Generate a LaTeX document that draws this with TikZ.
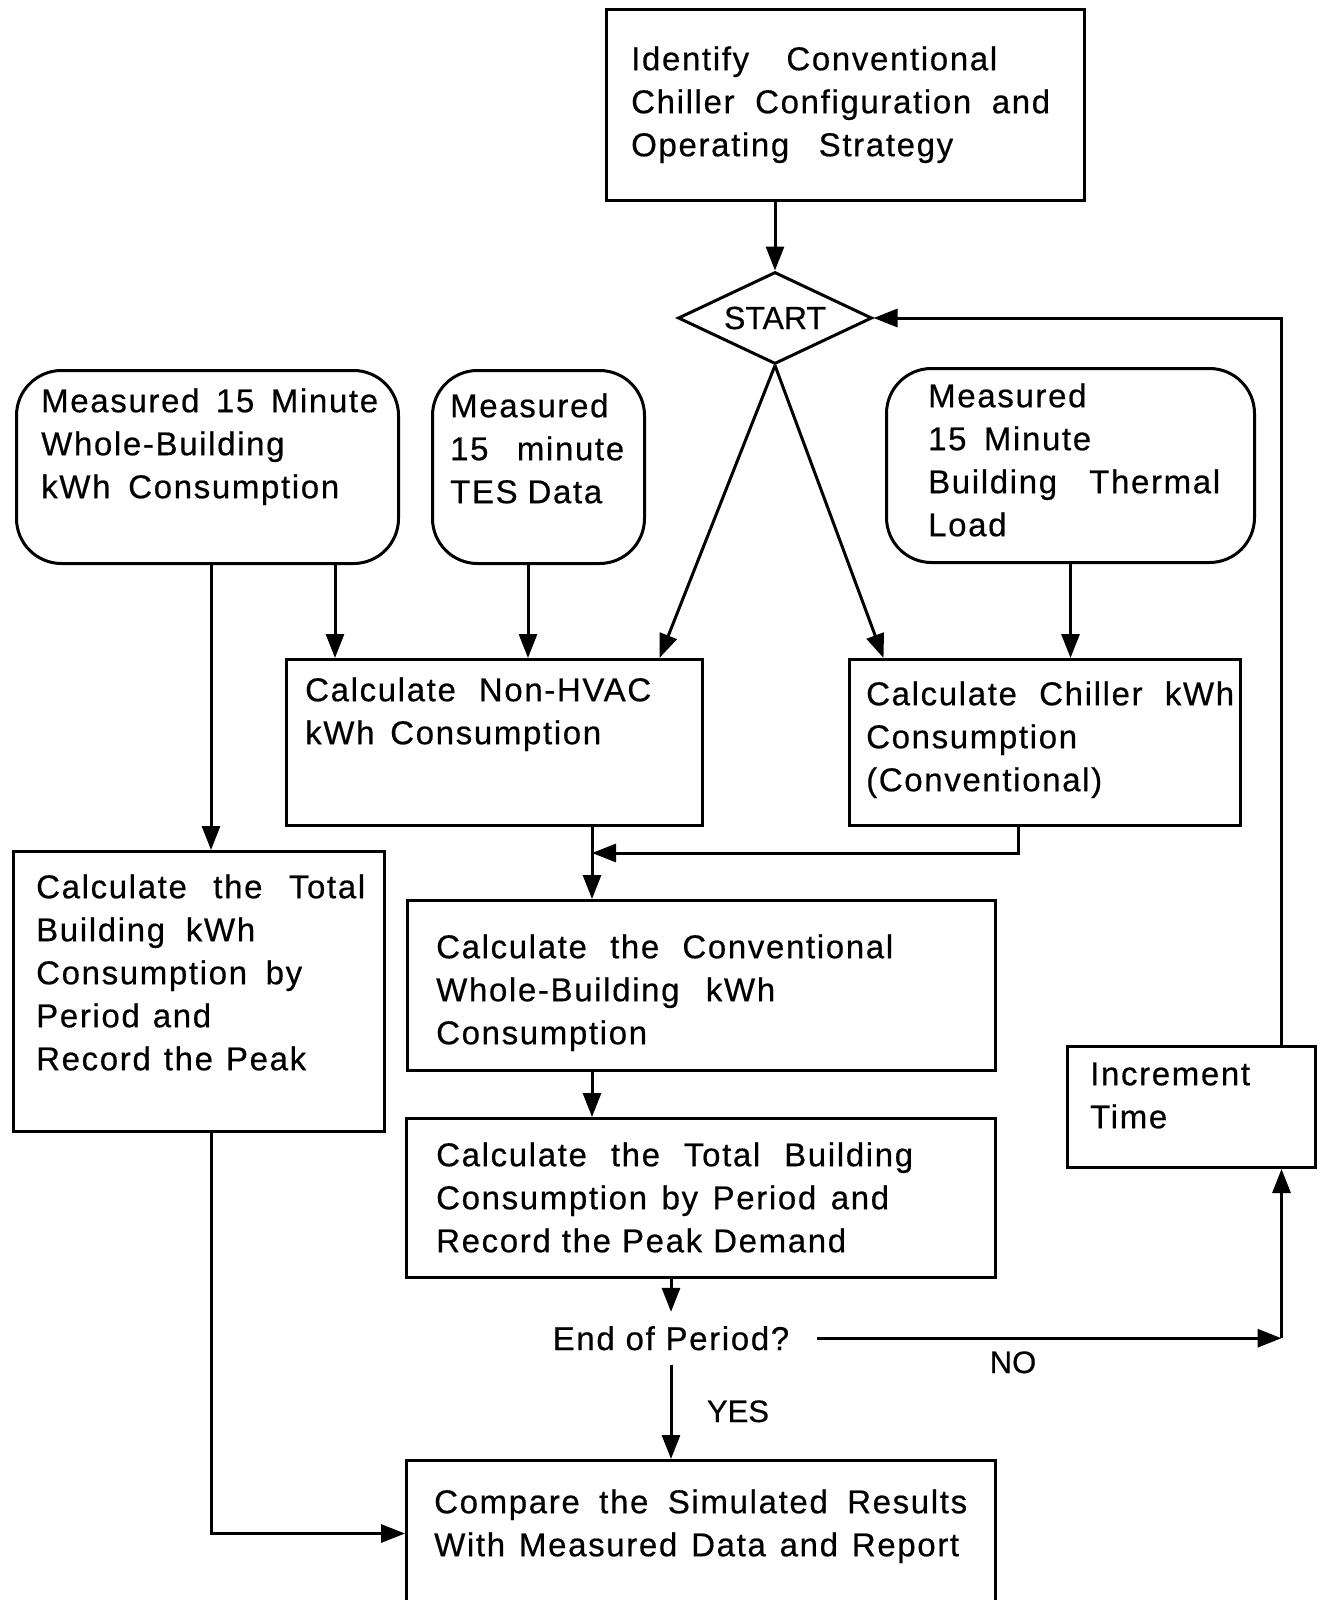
\documentclass[tikz,border=0pt]{standalone}
\usepackage{fontspec}
\setmainfont{Liberation Sans}[LetterSpace=5,FakeBold=0.5]
\newfontfamily\plainfont{Liberation Sans}[FakeBold=0.5]
\usetikzlibrary{arrows.meta,shapes.geometric}
\newcommand{\jl}[2]{\makebox[#1pt][s]{#2}}
\newcommand{\fl}{\rule{0pt}{25pt}}
\begin{document}
\begin{tikzpicture}[x=1pt,y=-1pt,
  box/.style={draw,line width=3pt,inner sep=0pt,anchor=north west},
  rbox/.style={box,rounded corners=45pt},
  txt/.style={anchor=north west,inner sep=0pt,align=left,font=\fontsize{33}{43}\selectfont},
  arr/.style={line width=3pt,-{Triangle[length=24pt,width=18pt]}},
  lbl/.style={anchor=base,inner sep=0pt,font=\plainfont\fontsize{31}{31}\selectfont},
]
\useasboundingbox (0,0) rectangle (1321,1600);
\fill[white] (0,0) rectangle (1321,1600);

% boxes
\node[box,minimum width=478pt,minimum height=191pt] (top) at (605,8) {};
\node[rbox,minimum width=382pt,minimum height=193pt] (box1) at (15,369) {};
\node[rbox,minimum width=212pt,minimum height=193pt] (tes) at (431,369) {};
\node[rbox,minimum width=368pt,minimum height=194pt] (thermal) at (885,367) {};
\node[box,minimum width=416pt,minimum height=166pt] (nonhvac) at (285,658) {};
\node[box,minimum width=391pt,minimum height=166pt] (chiller) at (848,658) {};
\node[box,minimum width=371pt,minimum height=280pt] (left) at (12,850) {};
\node[box,minimum width=588pt,minimum height=170pt] (conv) at (406,899) {};
\node[box,minimum width=589pt,minimum height=159pt] (total) at (405,1117) {};
\node[box,minimum width=248pt,minimum height=121pt] (inc) at (1066,1045) {};
\node[box,minimum width=589pt,minimum height=146pt] (compare) at (405,1459) {};

\node[draw,line width=3pt,shape=diamond,aspect=2.1,minimum width=194pt,minimum height=92pt,inner sep=0pt,
  font=\plainfont\fontsize{32}{32}\selectfont] (start) at (775,318) {START};

% texts
\node[txt] (ttop) at (631,45) {\fl\jl{366}{Identify Conventional}\\\jl{419}{Chiller Configuration and}\\\jl{322}{Operating Strategy}};
\node[txt] (tbox1) at (41,387) {\fl\jl{337}{Measured 15 Minute}\\Whole-Building\\\jl{298}{kWh Consumption}};
\node[txt] (ttes) at (450,392) {\fl Measured\\\jl{174}{15 minute}\\\jl{152}{TES Data}};
\node[txt] (tthermal) at (928,382) {\fl Measured\\\jl{163}{15 Minute}\\\jl{292}{Building Thermal}\\Load};
\node[txt] (tnonhvac) at (305,676) {\fl\jl{346}{Calculate Non-HVAC}\\\jl{296}{kWh Consumption}};
\node[txt] (tchiller) at (866,680) {\fl\jl{368}{Calculate Chiller kWh}\\Consumption\\(Conventional)};
\node[txt] (tleft) at (36,873) {\fl\jl{329}{Calculate the Total}\\\jl{219}{Building kWh}\\\jl{266}{Consumption by}\\\jl{175}{Period and}\\\jl{270}{Record the Peak}};
\node[txt] (tconv) at (436,933) {\fl\jl{457}{Calculate the Conventional}\\\jl{339}{Whole-Building kWh}\\Consumption};
\node[txt] (ttotal) at (436,1141) {\fl\jl{477}{Calculate the Total Building}\\\jl{453}{Consumption by Period and}\\\jl{410}{Record the Peak Demand}};
\node[txt] (tinc) at (1090,1060) {\fl Increment\\Time};
\node[txt] (tcompare) at (434,1488) {\fl\jl{533}{Compare the Simulated Results}\\\jl{525}{With Measured Data and Report}};

\node[anchor=base,inner xsep=28pt,inner ysep=14pt,font=\fontsize{33}{33}\selectfont] (endp) at (671,1350) {End of Period?};
\node[lbl] (yes) at (738,1422) {YES};
\node[lbl] (no) at (1013,1373) {NO};

% connectors
\draw[arr] (start.north |- top.south) -- (start.north);
\draw[arr] (start.south) -- ([xshift=165pt]nonhvac.north);
\draw[arr] (start.south) -- ([xshift=-161.5pt]chiller.north);
\coordinate (a1) at ([xshift=50pt]nonhvac.north west);
\draw[arr] (a1 |- box1.south) -- (a1);
\coordinate (a2) at ([xshift=243pt]nonhvac.north west);
\draw[arr] (a2 |- tes.south) -- (a2);
\draw[arr] (thermal.south) -- (thermal.south |- chiller.north);
\coordinate (a3) at ([xshift=199pt]left.north west);
\draw[arr] (a3 |- box1.south) -- (a3);
\coordinate (a4) at ([xshift=307pt]nonhvac.south west);
\coordinate (j) at ([yshift=-26pt]a4);
\draw[arr] (a4) -- (a4 |- conv.north);
\coordinate (a5) at ([xshift=170pt]chiller.south west);
\draw[arr] (a5) -- (a5 |- j) -- (j);
\draw[arr] (a4 |- conv.south) -- (a4 |- total.north);
\draw[arr] (endp.north |- total.south) -- (endp.north);
\draw[arr] (endp.south) -- (endp.south |- compare.north);
\coordinate (ix) at ([xshift=90pt]inc.south);
\coordinate (c) at (ix |- endp.east);
\draw[arr] (endp.east) -- (c);
\draw[arr] (c) -- (ix);
\coordinate (ix2) at ([xshift=90pt]inc.north);
\draw[arr] (ix2) -- (ix2 |- start.east) -- (start.east);
\draw[arr] (a3 |- left.south) -- (a3 |- compare.west) -- (compare.west);
\end{tikzpicture}
\end{document}
